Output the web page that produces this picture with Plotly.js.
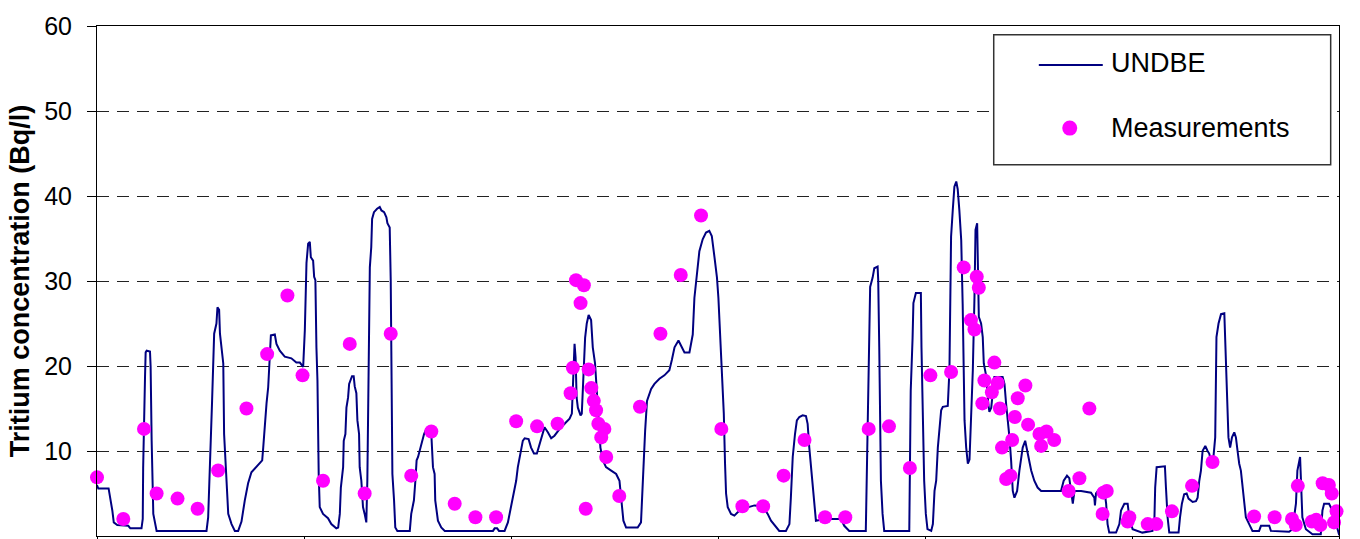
<!DOCTYPE html>
<html>
<head>
<meta charset="utf-8">
<script src="https://cdn.plot.ly/plotly-3.0.1.min.js"></script>
<style>html,body{margin:0;padding:0;background:#fff;}#chart{width:1360px;height:539px;}</style>
</head>
<body>
<div id="chart"></div>
<script>
// UNDBE modelled series (time in years from start, concentration in Bq/l)
var undbeYears = [-0.042,-0.040,0.001,0.006,0.056,0.064,0.074,0.081,0.098,0.151,0.161,0.215,0.221,0.223,0.227,0.232,0.235,0.240,0.256,0.259,0.264,0.272,0.288,0.529,0.537,0.545,0.556,0.566,0.577,0.582,0.590,0.594,0.610,0.614,0.625,0.634,0.650,0.666,0.682,0.698,0.714,0.730,0.746,0.778,0.798,0.803,0.811,0.819,0.827,0.835,0.840,0.859,0.867,0.883,0.907,0.939,0.963,0.980,0.996,1.004,1.012,1.020,1.028,1.033,1.044,1.049,1.055,1.060,1.065,1.071,1.076,1.092,1.116,1.132,1.156,1.165,1.173,1.178,1.189,1.192,1.200,1.205,1.213,1.218,1.226,1.232,1.240,1.245,1.253,1.258,1.266,1.269,1.277,1.285,1.293,1.301,1.306,1.309,1.314,1.318,1.325,1.329,1.338,1.353,1.366,1.374,1.387,1.398,1.403,1.414,1.419,1.422,1.425,1.427,1.435,1.441,1.451,1.511,1.518,1.531,1.538,1.544,1.551,1.559,1.570,1.580,1.591,1.607,1.615,1.623,1.631,1.634,1.647,1.663,1.680,1.913,1.921,1.933,1.942,1.969,1.985,2.001,2.017,2.025,2.033,2.046,2.057,2.066,2.085,2.097,2.111,2.125,2.138,2.149,2.162,2.178,2.194,2.210,2.235,2.259,2.283,2.294,2.299,2.307,2.312,2.317,2.323,2.336,2.342,2.352,2.358,2.366,2.375,2.387,2.395,2.406,2.416,2.423,2.432,2.444,2.459,2.484,2.508,2.524,2.535,2.543,2.556,2.612,2.628,2.633,2.641,2.648,2.657,2.669,2.677,2.693,2.717,2.741,2.765,2.777,2.790,2.809,2.821,2.838,2.862,2.878,2.886,2.899,2.910,2.926,2.942,2.958,2.970,2.983,2.995,3.002,3.010,3.018,3.028,3.034,3.039,3.047,3.063,3.079,3.095,3.119,3.152,3.176,3.216,3.240,3.256,3.280,3.296,3.328,3.345,3.352,3.361,3.372,3.381,3.393,3.409,3.425,3.433,3.441,3.449,3.457,3.465,3.473,3.514,3.594,3.610,3.634,3.714,3.719,3.726,3.731,3.735,3.747,3.755,3.771,3.774,3.779,3.784,3.787,3.795,3.803,3.924,3.929,3.931,3.940,3.944,3.956,3.980,3.983,3.989,3.996,4.004,4.012,4.030,4.038,4.046,4.054,4.062,4.070,4.078,4.086,4.110,4.118,4.126,4.134,4.142,4.151,4.158,4.166,4.175,4.182,4.191,4.199,4.207,4.215,4.223,4.231,4.239,4.244,4.252,4.255,4.260,4.271,4.279,4.284,4.295,4.306,4.311,4.320,4.335,4.375,4.384,4.392,4.400,4.408,4.416,4.424,4.432,4.445,4.456,4.472,4.484,4.496,4.513,4.528,4.544,4.561,4.657,4.670,4.686,4.697,4.706,4.714,4.722,4.754,4.802,4.818,4.821,4.826,4.842,4.866,4.875,4.882,4.890,4.923,4.939,4.947,4.963,4.979,4.987,5.003,5.050,5.099,5.108,5.112,5.119,5.159,5.164,5.172,5.180,5.225,5.232,5.241,5.252,5.264,5.273,5.293,5.309,5.317,5.325,5.333,5.341,5.354,5.365,5.373,5.381,5.392,5.402,5.408,5.418,5.430,5.446,5.450,5.457,5.461,5.466,5.474,5.483,5.494,5.502,5.510,5.518,5.526,5.534,5.542,5.550,5.566,5.582,5.614,5.623,5.663,5.671,5.759,5.775,5.792,5.799,5.812,5.819,5.823,5.840,5.872,5.912,5.920,5.928,5.952,5.968,5.985,6.000,6.033];
var undbeConc = [4.7,5.9,5.9,5.6,5.6,4.5,3.0,1.6,1.3,1.2,0.9,0.9,2.0,8.0,15.1,18.7,21.6,21.8,21.7,20.0,11.2,2.6,0.6,0.6,2.2,7.3,15.9,23.8,25.0,26.9,26.6,23.8,20.3,12.0,6.5,2.6,1.4,0.6,0.6,1.7,4.2,6.2,7.5,8.3,8.9,10.4,13.6,15.6,17.5,21.0,23.6,23.7,22.6,21.8,21.1,20.9,20.4,20.4,19.9,24.2,32.1,34.4,34.6,32.8,32.4,30.5,30.1,22.2,18.3,7.3,3.4,2.6,2.1,1.4,0.9,1.0,2.6,5.7,8.1,11.2,12.0,15.1,16.3,17.9,18.3,18.8,18.8,17.6,16.8,13.6,12.0,8.1,6.5,3.4,2.6,1.6,6.5,14.4,24.2,31.6,34.0,37.3,38.1,38.5,38.7,38.3,38.1,37.5,36.8,36.3,30.1,24.2,14.4,7.3,4.2,1.0,0.6,0.6,2.6,4.2,6.5,8.9,9.3,10.0,11.2,12.0,12.6,12.8,12.0,8.1,7.3,4.2,1.8,1.0,0.6,0.6,0.9,0.9,0.6,0.6,1.6,3.4,5.3,6.5,8.1,10.0,11.2,11.5,11.4,10.4,9.7,9.7,10.8,12.0,12.8,12.2,11.5,11.8,12.6,13.2,13.8,14.4,18.3,22.6,21.0,16.3,15.1,14.2,14.4,21.4,23.3,25.0,26.0,25.4,22.2,20.3,16.8,13.6,10.4,8.9,8.1,7.7,7.3,6.5,4.2,1.8,1.0,1.0,1.6,4.5,8.5,12.4,15.9,16.7,17.3,17.9,18.5,18.9,19.5,20.7,22.2,23.0,22.4,21.6,21.6,23.7,28.0,31.2,33.5,34.9,35.7,35.9,35.3,32.8,30.4,28.0,23.5,18.3,14.4,8.5,5.0,3.4,2.6,2.4,2.8,3.2,3.4,3.6,3.5,2.6,1.8,1.0,0.6,0.6,1.4,4.5,9.3,12.0,13.6,14.0,14.2,14.1,13.2,10.4,8.1,6.5,3.8,1.8,2.0,2.0,1.2,0.6,0.6,6.5,14.4,23.0,29.3,30.4,31.5,31.7,30.1,22.2,14.4,6.5,2.6,0.6,0.6,8.5,17.1,23.3,27.4,28.6,28.6,22.2,14.4,6.5,2.6,0.8,0.6,1.4,5.3,6.5,10.4,13.2,14.8,15.2,15.3,19.5,35.2,38.3,41.1,41.7,40.8,38.3,34.8,27.3,13.6,10.4,8.5,9.0,13.6,19.5,28.1,36.0,36.8,31.2,25.8,25.0,23.4,20.3,18.9,15.5,14.6,15.1,18.7,18.7,17.9,15.5,13.6,11.6,8.9,5.3,4.5,5.3,7.7,10.4,11.2,9.7,7.7,6.5,5.7,5.3,5.3,6.5,7.1,6.8,5.3,3.8,5.3,5.3,5.1,4.5,3.6,5.0,5.5,5.5,3.8,1.4,0.4,0.4,1.4,3.0,3.8,3.8,2.2,0.8,0.4,0.6,1.8,5.7,8.1,8.2,5.7,2.2,0.4,0.4,2.2,3.8,4.9,5.0,4.4,4.0,4.1,4.5,6.5,7.7,10.0,10.6,10.0,9.7,8.9,8.9,11.6,23.4,25.0,26.1,26.2,23.4,20.3,15.5,11.6,10.4,11.6,12.2,11.6,10.0,8.5,7.7,5.7,3.8,2.2,1.4,0.6,0.6,1.2,1.2,0.6,0.5,0.8,3.8,7.7,9.3,5.7,2.2,0.8,0.2,0.2,3.0,3.8,3.8,3.0,1.4,0.2,0.4];

// Measurements
var measYears = [0.000,0.127,0.227,0.288,0.389,0.486,0.585,0.722,0.822,0.920,0.993,1.092,1.221,1.293,1.419,1.518,1.615,1.728,1.828,1.928,2.025,2.126,2.225,2.288,2.299,2.314,2.336,2.352,2.361,2.375,2.388,2.400,2.411,2.422,2.436,2.451,2.460,2.523,2.623,2.722,2.820,2.918,3.016,3.118,3.218,3.317,3.418,3.517,3.615,3.728,3.826,3.927,4.026,4.126,4.187,4.222,4.239,4.250,4.260,4.277,4.287,4.323,4.335,4.351,4.362,4.372,4.392,4.413,4.421,4.434,4.448,4.485,4.498,4.553,4.561,4.587,4.624,4.694,4.746,4.794,4.858,4.862,4.878,4.979,4.987,5.076,5.117,5.193,5.290,5.389,5.590,5.689,5.773,5.791,5.801,5.869,5.890,5.910,5.921,5.951,5.965,5.976,5.988];
var measConc = [6.9,2.0,12.6,5.0,4.4,3.2,7.7,15.0,21.4,28.3,18.9,6.5,22.6,5.0,23.8,7.1,12.3,3.8,2.2,2.2,13.5,12.9,13.2,16.8,19.8,30.1,27.4,29.5,3.2,19.6,17.4,15.9,14.8,13.2,11.6,12.6,9.3,4.7,15.2,23.8,30.7,37.7,12.6,3.5,3.5,7.1,11.3,2.2,2.2,12.6,12.9,8.0,18.9,19.3,31.6,25.4,24.3,30.5,29.2,15.6,18.3,16.9,20.4,18.0,15.0,10.4,6.7,7.1,11.3,14.0,16.2,17.7,13.1,12.0,10.6,12.3,11.3,5.3,6.8,15.0,2.6,5.1,5.3,1.7,2.2,1.4,1.4,2.9,5.9,8.7,2.3,2.2,2.0,1.3,5.9,1.7,1.9,1.3,6.2,6.0,5.0,1.6,2.9];

var yTickVals = [10,20,30,40,50,60];
var yTickText = ['10','20','30','40','50','60'];
var xTickVals = [0,1,2,3,4,5,6];
var seriesNames = ['UNDBE','Measurements'];
var yTitle = 'Tritium concentration (Bq/l)';

var FONT = 'Liberation Sans, Arial, Helvetica, sans-serif';

var traces = [
  {x: undbeYears, y: undbeConc, type: 'scatter', mode: 'lines', name: seriesNames[0],
   line: {color: '#000080', width: 2}, hoverinfo: 'x+y'},
  {x: measYears, y: measConc, type: 'scatter', mode: 'markers', name: seriesNames[1],
   marker: {color: '#FF00FF', size: 14, line: {width: 0}}, cliponaxis: false}
];

var layout = {
  width: 1360, height: 539,
  margin: {l: 97, r: 21, t: 26, b: 3},
  paper_bgcolor: '#ffffff', plot_bgcolor: '#ffffff',
  showlegend: false,
  font: {family: FONT, color: '#000'},
  xaxis: {
    range: [0, 6], tickvals: xTickVals, showticklabels: false,
    ticks: 'outside', ticklen: 6, tickcolor: '#000', tickwidth: 1,
    showline: true, linecolor: '#000', linewidth: 1, mirror: true,
    showgrid: false, zeroline: false, fixedrange: true
  },
  yaxis: {
    range: [0, 60], tickvals: yTickVals, ticktext: yTickText,
    ticks: 'outside', ticklen: 9, tickcolor: '#000', tickwidth: 1,
    ticklabelstandoff: 10,
    tickfont: {family: FONT, size: 25, color: '#000'},
    showline: true, linecolor: '#000', linewidth: 1, mirror: true,
    showgrid: true, gridcolor: '#222', gridwidth: 1, griddash: '12px,8px',
    zeroline: false, fixedrange: true,
    title: {text: '<b>' + yTitle + '</b>', font: {family: FONT, size: 27, color: '#000'}, standoff: 6}
  },
  shapes: [
    {type: 'rect', xref: 'paper', yref: 'paper', x0: 0.722, x1: 0.9933, y0: 0.7278, y1: 0.983,
     line: {color: '#333', width: 1.5}, fillcolor: '#ffffff', layer: 'above'},
    {type: 'line', xref: 'paper', yref: 'paper', x0: 0.7583, x1: 0.8098, y0: 0.9235, y1: 0.9235,
     line: {color: '#000080', width: 2}, layer: 'above'},
    {type: 'circle', xref: 'paper', yref: 'paper', xsizemode: 'pixel', ysizemode: 'pixel',
     xanchor: 0.7832, yanchor: 0.7998, x0: -7.5, x1: 7.5, y0: -7.5, y1: 7.5,
     fillcolor: '#FF00FF', line: {width: 0}, layer: 'above'}
  ],
  annotations: [
    {xref: 'paper', yref: 'paper', x: 0.815, y: 0.9274, xanchor: 'left', yanchor: 'middle',
     text: seriesNames[0], showarrow: false, font: {family: FONT, size: 27, color: '#000'}},
    {xref: 'paper', yref: 'paper', x: 0.815, y: 0.8008, xanchor: 'left', yanchor: 'middle',
     text: seriesNames[1], showarrow: false, font: {family: FONT, size: 27, color: '#000'}}
  ]
};

Plotly.newPlot('chart', traces, layout, {displayModeBar: false, staticPlot: true});
</script>
</body>
</html>
